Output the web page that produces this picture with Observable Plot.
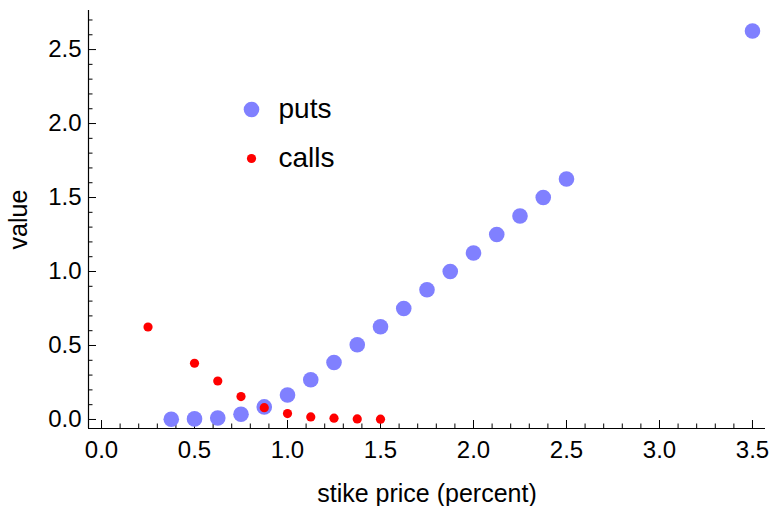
<!DOCTYPE html>
<html>
<head>
<meta charset="utf-8">
<script src="https://cdn.jsdelivr.net/npm/d3@7"></script>
<script src="https://cdn.jsdelivr.net/npm/@observablehq/plot@0.6"></script>
<style>
  html, body { margin: 0; padding: 0; background: #fff; }
  #chart svg { display: block; }
</style>
</head>
<body>
<div id="chart"></div>
<script>
// Data
const putStrikes = [0.375, 0.5, 0.625, 0.75, 0.875, 1.0, 1.125, 1.25, 1.375, 1.5, 1.625, 1.75, 1.875, 2.0, 2.125, 2.25, 2.375, 2.5, 3.5];
const putValues  = [0.002, 0.004, 0.01, 0.035, 0.085, 0.165, 0.268, 0.385, 0.505, 0.627, 0.75, 0.877, 1.0, 1.125, 1.25, 1.375, 1.5, 1.625, 2.625];
const callStrikes = [0.25, 0.5, 0.625, 0.75, 0.875, 1.0, 1.125, 1.25, 1.375, 1.5];
const callValues  = [0.625, 0.38, 0.26, 0.155, 0.08, 0.04, 0.017, 0.009, 0.004, 0.002];
const xTickValues = [0, 0.5, 1.0, 1.5, 2.0, 2.5, 3.0, 3.5];
const yTickValues = [0, 0.5, 1.0, 1.5, 2.0, 2.5];
const xDomain = [-0.07, 3.57];
const yDomain = [-0.061, 2.764];
const seriesNames = ["puts", "calls"];
const xLabel = "stike price (percent)";
const yLabel = "value";

const puts = putStrikes.map((x, i) => ({x, y: putValues[i]}));
const calls = callStrikes.map((x, i) => ({x, y: callValues[i]}));
const xMinor = d3.range(0, 36).map(i => i / 10).filter(v => !xTickValues.some(t => Math.abs(t - v) < 1e-9));
const yMinor = d3.range(0, 28).map(i => i / 10).filter(v => !yTickValues.some(t => Math.abs(t - v) < 1e-9));

const width = 769, height = 506;
const mL = 88, mR = 4, mT = 10, mB = 78;
const fw = width - mL - mR, fh = height - mT - mB;
const putColor = "#8080ff", callColor = "#ff0000";
const font = "'Liberation Sans', Arial, sans-serif";

const chart = Plot.plot({
  width, height,
  marginLeft: mL, marginRight: mR, marginTop: mT, marginBottom: mB,
  style: {fontFamily: font, background: "#fff", color: "#000"},
  x: {domain: xDomain},
  y: {domain: yDomain},
  marks: [
    // axis lines
    Plot.ruleY([yDomain[0]], {stroke: "#000", strokeWidth: 1.2}),
    Plot.ruleX([xDomain[0]], {stroke: "#000", strokeWidth: 1.2}),
    // inward ticks
    Plot.tickX(xTickValues, {x: d => d, stroke: "#000", insetTop: fh - 8}),
    Plot.tickX(xMinor, {x: d => d, stroke: "#000", insetTop: fh - 4.5}),
    Plot.tickY(yTickValues, {y: d => d, stroke: "#000", insetRight: fw - 8}),
    Plot.tickY(yMinor, {y: d => d, stroke: "#000", insetRight: fw - 4.5}),
    // tick labels
    Plot.axisX({ticks: xTickValues, tickSize: 0, tickPadding: 12, tickFormat: d3.format(".1f"), fontSize: 24, label: null}),
    Plot.axisY({ticks: yTickValues, tickSize: 0, tickPadding: 7, tickFormat: d3.format(".1f"), fontSize: 24, label: null}),
    // axis labels
    Plot.text([xLabel], {frameAnchor: "bottom", dy: 65, fontSize: 25, text: d => d, fill: "#000", textAnchor: "middle", lineAnchor: "middle"}),
    Plot.text([yLabel], {frameAnchor: "left", dx: -70, rotate: -90, fontSize: 25, text: d => d, fill: "#000", textAnchor: "middle", lineAnchor: "middle"}),
    // data
    Plot.dot(puts, {x: "x", y: "y", r: 7.8, fill: putColor}),
    Plot.dot(calls, {x: "x", y: "y", r: 4.6, fill: callColor}),
    // legend
    Plot.dot([seriesNames[0]], {frameAnchor: "top-left", dx: 163, dy: 99, r: 7.8, fill: putColor}),
    Plot.dot([seriesNames[1]], {frameAnchor: "top-left", dx: 163, dy: 148, r: 4.6, fill: callColor}),
    Plot.text([seriesNames[0]], {frameAnchor: "top-left", dx: 190, dy: 99, text: d => d, textAnchor: "start", lineAnchor: "middle", fontSize: 28, fill: "#000"}),
    Plot.text([seriesNames[1]], {frameAnchor: "top-left", dx: 190, dy: 148, text: d => d, textAnchor: "start", lineAnchor: "middle", fontSize: 28, fill: "#000"})
  ]
});
document.getElementById("chart").appendChild(chart);
</script>
</body>
</html>
